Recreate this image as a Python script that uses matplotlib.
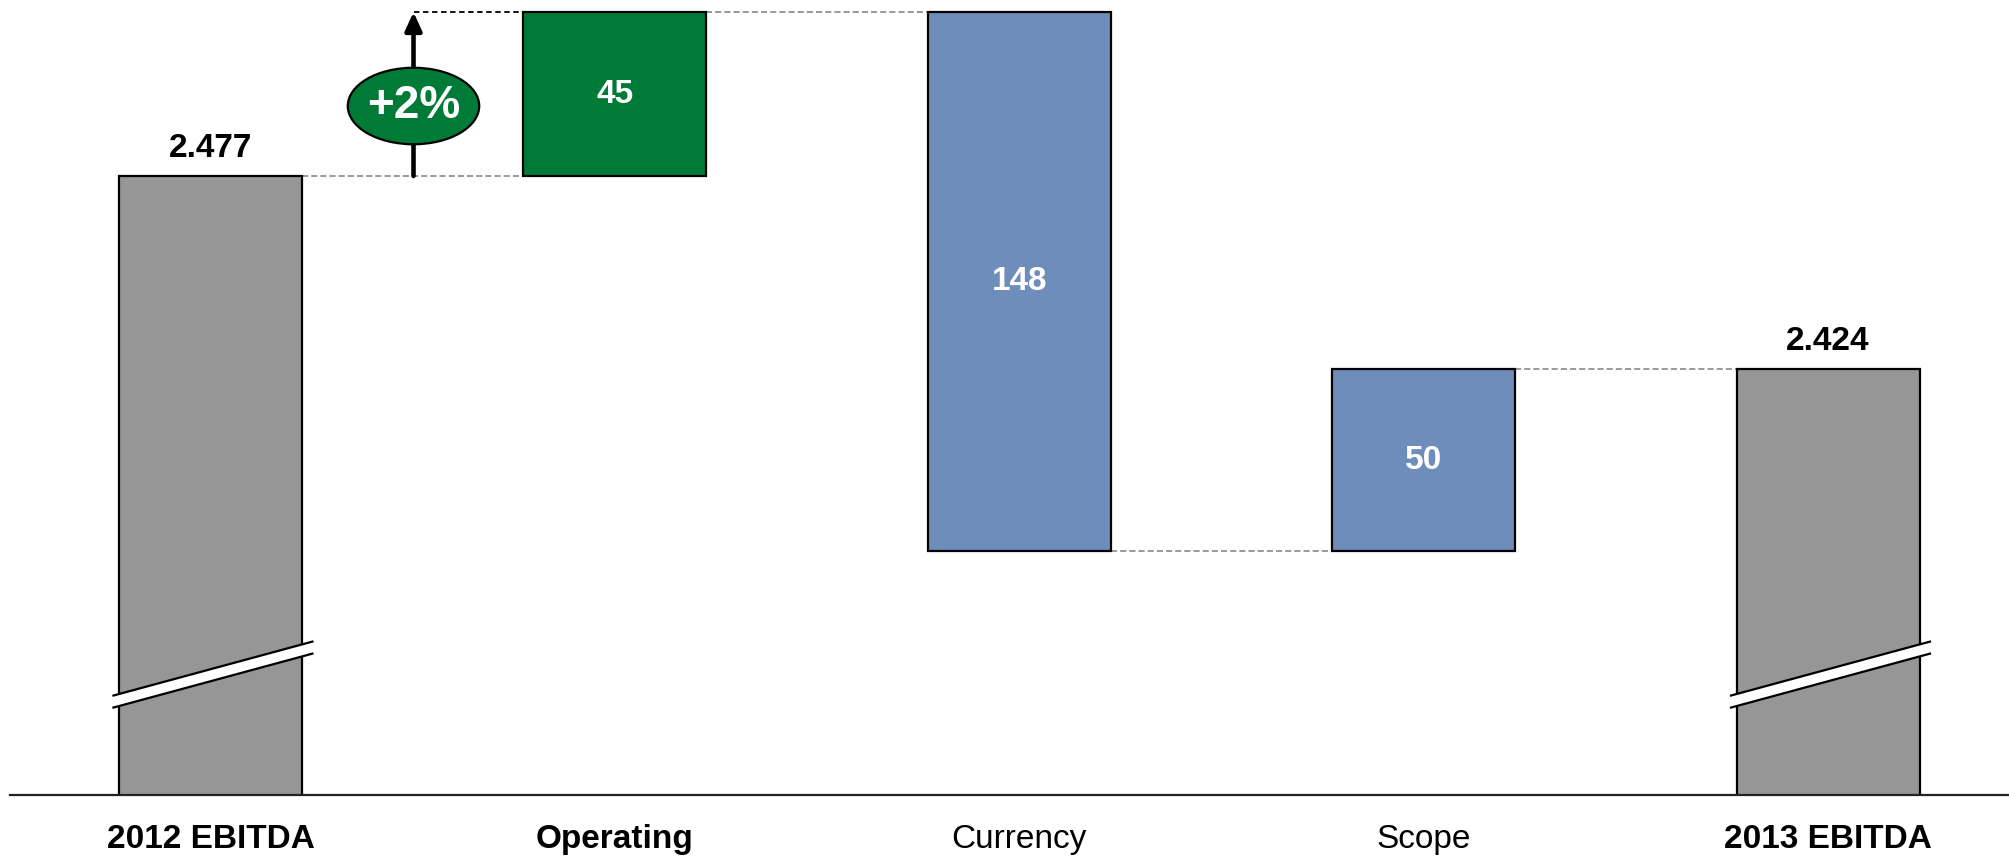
import matplotlib
matplotlib.use("Agg")
import matplotlib.pyplot as plt
from matplotlib.patches import Ellipse, Polygon
import numpy as np

plt.rcParams['font.family'] = ['Liberation Sans', 'DejaVu Sans']

# ---------------- data ----------------
categories = ['2012 EBITDA', 'Operating', 'Currency', 'Scope', '2013 EBITDA']
label_bold = [True, True, False, False, True]
start_total = 2477
changes = [45, -148, 50]
end_total = 2424
value_labels = ['2.477', '45', '148', '50', '2.424']
growth_label = '+2%'
bar_colors = ['#969696', '#007A37', '#6E8DBA', '#6E8DBA', '#969696']

# ---------------- derived ----------------
x = np.arange(len(categories))
levels = [start_total]
for c in changes:
    levels.append(levels[-1] + c)
bottoms, tops = [], []
bottoms.append(0); tops.append(start_total)
for i, c in enumerate(changes):
    lo, hi = sorted([levels[i], levels[i + 1]])
    bottoms.append(lo); tops.append(hi)
bottoms.append(0); tops.append(end_total)

W, H, DPI = 2009, 861, 100
fig = plt.figure(figsize=(W / DPI, H / DPI), dpi=DPI)
ax = fig.add_axes([10 / W, (H - 795) / H, 1 - 10 / W, 795 / H])
ax.set_xlim(-0.4958, 4.4474)
ax.set_ylim(2307.1, 2525.3)

bw = 0.4525
ax.bar(x, np.array(tops) - np.array(bottoms), bottom=bottoms, width=bw,
       color=bar_colors, edgecolor='black', linewidth=1.6, zorder=3)

# connectors
gray_dash = dict(color='#7f7f7f', linewidth=1.1, linestyle=(0, (4, 2)), zorder=2)
ax.plot([x[0] + bw / 2, x[1] - bw / 2], [start_total] * 2, **gray_dash)
ax.plot([x[1] + bw / 2, x[2] - bw / 2], [levels[1]] * 2, **gray_dash)
ax.plot([x[2] + bw / 2, x[3] - bw / 2], [levels[2]] * 2, **gray_dash)
ax.plot([x[3] + bw / 2, x[4] - bw / 2], [levels[3]] * 2, **gray_dash)

# growth arrow + ellipse
ax_x = 0.502
ax.plot([ax_x, x[1] - bw / 2], [levels[1]] * 2, color='black', linewidth=1.3,
        linestyle=(0, (3, 2)), zorder=2)
ax.annotate('', xy=(ax_x, levels[1]), xytext=(ax_x, start_total),
            arrowprops=dict(arrowstyle='-|>,head_length=1.1,head_width=0.5',
                            color='black', linewidth=3.3, shrinkA=0, shrinkB=0),
            zorder=4)
mid = 2522 - (106 - 12) / 3.644
ell = Ellipse((ax_x, mid), width=0.325, height=21.0, facecolor='#007A37',
              edgecolor='black', linewidth=1.6, zorder=5)
ax.add_patch(ell)
ax.text(ax_x, mid, growth_label, color='white', fontsize=33, fontweight='bold',
        ha='center', va='center', zorder=6)

# break marks on total bars
for xi in (x[0], x[-1]):
    xl, xr = xi - 0.24, xi + 0.252
    up_l, up_r = 2334.4, 2349.2
    gap = 3.3
    poly = Polygon([[xl, up_l], [xr, up_r], [xr, up_r - gap], [xl, up_l - gap]],
                   closed=True, facecolor='white', edgecolor='none', zorder=4)
    ax.add_patch(poly)
    ax.plot([xl, xr], [up_l, up_r], color='black', linewidth=1.6, zorder=5)
    ax.plot([xl, xr], [up_l - gap, up_r - gap], color='black', linewidth=1.6, zorder=5)

# value labels
for i in (0, 4):
    ax.annotate(value_labels[i], xy=(x[i], tops[i]), xytext=(0, 14),
                textcoords='offset points', ha='center', va='baseline',
                fontsize=24, fontweight='bold', color='black', zorder=6)
for i in (1, 2, 3):
    ax.text(x[i], (tops[i] + bottoms[i]) / 2, value_labels[i], ha='center',
            va='center', fontsize=24, fontweight='bold', color='white', zorder=6)

# axes styling
for s in ('top', 'right', 'left'):
    ax.spines[s].set_visible(False)
ax.spines['bottom'].set_linewidth(1.6)
ax.spines['bottom'].set_color('#222222')
ax.spines['bottom'].set_zorder(7)
ax.set_yticks([])
ax.set_xticks(x)
ax.set_xticklabels(categories, fontsize=24)
for lab, b in zip(ax.get_xticklabels(), label_bold):
    lab.set_fontweight('bold' if b else 'normal')
ax.tick_params(axis='x', length=0, pad=21)

fig.savefig('out.png', dpi=DPI, facecolor='white')
